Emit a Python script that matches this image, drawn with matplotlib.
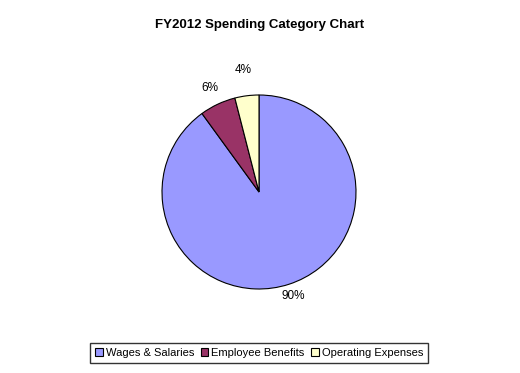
import numpy as np
import matplotlib.pyplot as plt

plt.rcParams['font.family'] = ['Liberation Sans', 'DejaVu Sans']

categories = ['Wages & Salaries', 'Employee Benefits', 'Operating Expenses']
shares = [90, 6, 4]
labels = ['90%', '6%', '4%']
colors = ['#9999FF', '#993366', '#FFFFCC']
label_dist = [1.13, 1.18, 1.27]

fig = plt.figure(figsize=(5.2, 3.73), dpi=100)
fig.patch.set_facecolor('white')

# axes placed so the pie sits where it does in the reference
cx, cy, r = 259, 192, 97
ax = fig.add_axes([(cx - r) / 520, (373 - cy - r) / 373, 2 * r / 520, 2 * r / 373])

wedges, _ = ax.pie(shares, colors=colors, startangle=90, counterclock=False,
                   wedgeprops=dict(edgecolor='black', linewidth=0.8))
ax.set_xlim(-1, 1)
ax.set_ylim(-1, 1)
ax.set_aspect('equal')
ax.axis('off')

# percentage labels outside each slice
for w, lab, d in zip(wedges, labels, label_dist):
    ang = np.deg2rad((w.theta1 + w.theta2) / 2)
    ax.text(d * np.cos(ang), d * np.sin(ang), lab, ha='center', va='center',
            fontsize=8.5)

fig.text(0.5, 1 - 25 / 373, 'FY2012 Spending Category Chart', ha='center',
         va='center', fontsize=9.5, fontweight='bold')

leg = fig.legend(wedges, categories, loc='center', bbox_to_anchor=(0.498, 1 - 353 / 373),
                 ncol=3, fontsize=8, frameon=True, fancybox=False, edgecolor='black',
                 handlelength=0.7, handleheight=0.7, handletextpad=0.25,
                 columnspacing=0.6, borderpad=0.45, borderaxespad=0)
leg.get_frame().set_linewidth(1.0)

fig.savefig('out.png', dpi=100)
